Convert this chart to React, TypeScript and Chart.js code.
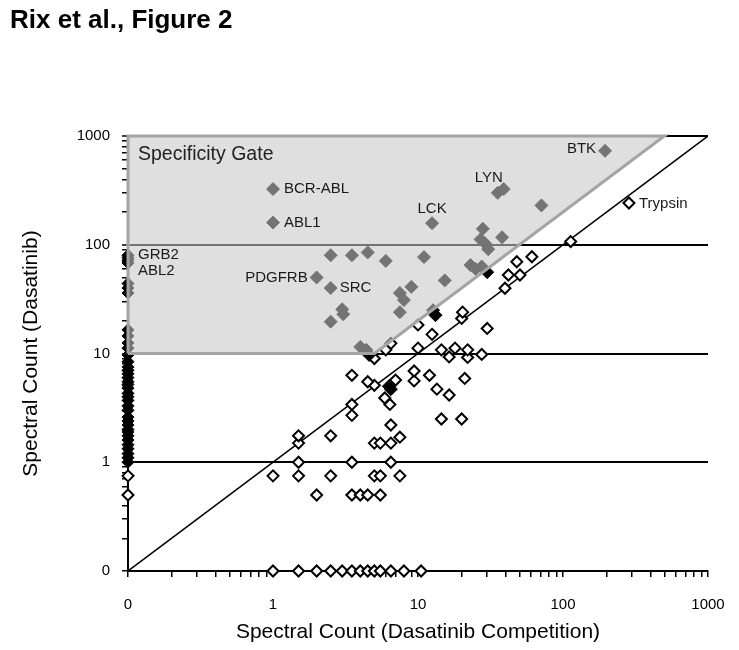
import React, { useEffect, useRef } from 'react';
import { Chart, registerables } from 'chart.js';

Chart.register(...registerables);

const FONT = 'Arial, "Liberation Sans", Helvetica, sans-serif';

// ---- axis description (0 is drawn one decade below 1) ----
const AXIS_ZERO = 0.1;
const decadeStarts = [0.1, 1, 10, 100];
const majorTickValues = [0.1, 1, 10, 100, 1000];
const majorTickLabels = ['0', '1', '10', '100', '1000'];
const gridValues = [1, 10, 100, 1000];

// ---- data: Spectral Count (Dasatinib Competition) vs Spectral Count (Dasatinib) ----
// filled diamonds with no competition signal (x = 0)
const zeroCompY = [
  80, 76, 72, 68, 44, 40, 36, 16.5, 14.5, 12.5, 11.2, 9.7, 8.4, 7.5, 7, 6.5, 6, 5.5, 5.2, 4.8,
  4.3, 4, 3.7, 3.3, 3, 2.6, 2.4, 2.2, 2, 1.9, 1.75, 1.6, 1.45, 1.33, 1.2, 1.1, 1.0,
];
// other filled diamonds
const hitX = [
  1, 1, 12.5, 35.5, 39, 195, 71, 28, 38, 27, 29, 30.5, 23, 25, 27.5, 30, 15.3, 11, 9, 7.5,
  8, 7.5, 12.7, 13.2, 2.5, 3.5, 4.5, 6, 2, 2.5, 3, 3.05, 2.5, 4, 4.4, 4.6, 6.3, 6.5,
];
const hitY = [
  325, 160, 158, 300, 325, 730, 230, 140, 117, 112, 103, 91, 65, 60, 63, 56, 47, 77, 41, 36,
  31, 24, 25, 22.5, 80, 80, 85, 71, 50, 40, 25.5, 23, 19.6, 11.5, 10.8, 9.7, 5.0, 4.7,
];
// open diamonds
const openX = [
  0, 0,
  1, 1.5, 2, 2.5, 3, 3.5, 4, 4.5, 5, 5.5, 6.5, 8, 10.5,
  2, 3.5, 4, 4.5, 5.5,
  1, 1.5, 2.5, 5, 5.5, 7.5,
  1.5, 3.5, 6.5,
  1.5, 5, 5.5, 6.5,
  1.5, 2.5, 7.5,
  6.5, 14.5, 20, 3.5, 3.5, 6.4, 5.9, 16.4, 13.5, 5, 4.5, 7, 9.4, 21, 3.5, 12, 9.4,
  5, 16.4, 22, 27.5, 6, 14.5, 22, 10, 18, 6.5, 12.5, 30, 10, 20, 20.3, 39.8, 42, 50.5, 48, 61, 113, 285,
];
const openY = [
  0.75, 0.5,
  0, 0, 0, 0, 0, 0, 0, 0, 0, 0, 0, 0, 0,
  0.5, 0.5, 0.5, 0.5, 0.5,
  0.75, 0.75, 0.75, 0.75, 0.75, 0.75,
  1, 1, 1,
  1.5, 1.5, 1.5, 1.5,
  1.75, 1.75, 1.7,
  2.2, 2.5, 2.5, 2.7, 3.4, 3.4, 3.9, 4.15, 4.7, 5.1, 5.5, 5.7, 5.6, 5.9, 6.3, 6.3, 6.9,
  9, 9.3, 9.2, 9.8, 10.8, 10.8, 10.8, 11.2, 11.2, 12.4, 15, 17, 18.3, 21, 24, 39.8, 52.7, 52.7, 69.8, 77.6, 107, 242,
];
// y = x reference line
const diagX = [0, 1000];
const diagY = [0, 1000];
// specificity gate polygon
const gateX = [0, 0, 500, 5, 0];
const gateY = [10, 1000, 1000, 10, 10];

// point labels
const labelNames = ['BCR-ABL', 'ABL1', 'LCK', 'LYN', 'BTK', 'Trypsin', 'GRB2', 'ABL2', 'PDGFRB', 'SRC'];
const labelAtX = [1, 1, 12.5, 35.5, 195, 285, 0, 0, 2, 2.5];
const labelAtY = [325, 160, 158, 300, 730, 242, 80, 68, 50, 40];
const gateTitle = 'Specificity Gate';

// label placement (pixel offsets / alignment)
const labelPlacement: { dx: number; dy: number; align: CanvasTextAlign; size: number }[] = [
  { dx: 11, dy: 0, align: 'left', size: 15 },
  { dx: 11, dy: 0, align: 'left', size: 15 },
  { dx: 0, dy: -14, align: 'center', size: 15 },
  { dx: -9, dy: -15, align: 'center', size: 15 },
  { dx: -9, dy: -2, align: 'right', size: 15 },
  { dx: 10, dy: 1, align: 'left', size: 15 },
  { dx: 10, dy: 0, align: 'left', size: 15 },
  { dx: 10, dy: 8, align: 'left', size: 15 },
  { dx: -9, dy: 0, align: 'right', size: 15 },
  { dx: 9, dy: 0, align: 'left', size: 15 },
];

const toAxis = (v: number) => (v === 0 ? AXIS_ZERO : v);
const toPoints = (xs: number[], ys: number[]) => xs.map((x, i) => ({ x: toAxis(x), y: toAxis(ys[i]) }));

function buildTicks() {
  const out: { value: number; major: boolean }[] = [];
  decadeStarts.forEach((base) => {
    for (let m = 1; m <= 9; m++) out.push({ value: base * m, major: m === 1 });
  });
  out.push({ value: 1000, major: true });
  return out;
}

function tickLabel(value: number, index: number, ticks: any[]) {
  if (!ticks[index] || !ticks[index].major) return '';
  const k = majorTickValues.findIndex((v) => Math.abs(v - value) / v < 1e-6);
  return k >= 0 ? majorTickLabels[k] : '';
}

const labelPlugin = {
  id: 'pointLabels',
  afterDatasetsDraw(chart: any) {
    const { ctx, scales } = chart;
    const xs = scales.x;
    const ys = scales.y;
    ctx.save();
    ctx.textBaseline = 'middle';
    ctx.fillStyle = '#1a1a1a';
    labelNames.forEach((name, i) => {
      const p = labelPlacement[i];
      const px = xs.getPixelForValue(toAxis(labelAtX[i])) + p.dx;
      const py = ys.getPixelForValue(toAxis(labelAtY[i])) + p.dy;
      ctx.font = `${p.size}px ${FONT}`;
      ctx.textAlign = p.align;
      ctx.fillText(name, px, py);
    });
    ctx.font = `19.5px ${FONT}`;
    ctx.textAlign = 'left';
    ctx.fillStyle = '#222';
    ctx.fillText(gateTitle, xs.getPixelForValue(toAxis(gateX[1])) + 10, ys.getPixelForValue(toAxis(gateY[1])) + 19);
    ctx.restore();
  },
};

export default function App() {
  const ref = useRef<HTMLCanvasElement | null>(null);

  useEffect(() => {
    if (!ref.current) return;
    document.body.style.margin = '0';
    const axisCommon = (title: string, titlePadding: any) => ({
      type: 'logarithmic' as const,
      min: AXIS_ZERO,
      max: 1000,
      afterBuildTicks: (scale: any) => {
        scale.ticks = buildTicks();
      },
      ticks: {
        autoSkip: false,
        maxRotation: 0,
        minRotation: 0,
        color: '#000',
        font: { family: FONT, size: 15 },
        callback: tickLabel,
      },
      border: { display: true, color: '#000', width: 2 },
      title: {
        display: true,
        text: title,
        color: '#000',
        font: { family: FONT, size: 21 },
        padding: titlePadding,
      },
    });

    const xAxis: any = axisCommon('Spectral Count (Dasatinib Competition)', { top: 0, bottom: 5 });
    xAxis.position = 'bottom';
    xAxis.grid = { drawOnChartArea: false, drawTicks: true, tickLength: 6, tickColor: '#000', lineWidth: 1.5 };
    xAxis.ticks.padding = 19;
    xAxis.afterFit = (s: any) => {
      s.height = 79;
      s.paddingLeft = 0;
      s.paddingRight = 0;
    };

    const yAxis: any = axisCommon('Spectral Count (Dasatinib)', { top: 19, bottom: 0 });
    yAxis.position = 'left';
    yAxis.grid = {
      drawOnChartArea: true,
      drawTicks: true,
      tickLength: 6,
      tickColor: '#000',
      tickWidth: 1.5,
      lineWidth: (c: any) => (c.tick && gridValues.some((v) => Math.abs(v - c.tick.value) / v < 1e-6) ? 2 : 1.5),
      color: (c: any) =>
        c.tick && gridValues.some((v) => Math.abs(v - c.tick.value) / v < 1e-6) ? '#000' : 'rgba(0,0,0,0)',
    };
    yAxis.ticks.padding = 12;
    yAxis.afterFit = (s: any) => {
      s.width = 128;
      s.paddingTop = 0;
      s.paddingBottom = 0;
    };

    const chart = new Chart(ref.current, {
      type: 'scatter',
      data: {
        datasets: [
          {
            label: 'Specificity Gate',
            data: toPoints(gateX, gateY),
            showLine: true,
            pointRadius: 0,
            borderColor: '#a4a4a4',
            borderWidth: 3,
            borderJoinStyle: 'miter',
            backgroundColor: 'rgba(200,200,200,0.58)',
            fill: 'shape',
            clip: false,
            order: 0,
          } as any,
          {
            label: 'Hits (no competition)',
            data: zeroCompY.map((y) => ({ x: AXIS_ZERO, y: toAxis(y) })),
            pointStyle: 'rectRot',
            pointRadius: 6,
            backgroundColor: '#000',
            borderColor: '#000',
            borderWidth: 1,
            clip: false,
            order: 1,
          } as any,
          {
            label: 'Hits',
            data: toPoints(hitX, hitY),
            pointStyle: 'rectRot',
            pointRadius: 6.5,
            backgroundColor: '#000',
            borderColor: '#000',
            borderWidth: 1,
            clip: false,
            order: 1,
          } as any,
          {
            label: 'Other proteins',
            data: toPoints(openX, openY),
            pointStyle: 'rectRot',
            pointRadius: 5.5,
            backgroundColor: '#fff',
            borderColor: '#000',
            borderWidth: 2,
            clip: false,
            order: 2,
          } as any,
          {
            label: 'y = x',
            data: toPoints(diagX, diagY),
            showLine: true,
            pointRadius: 0,
            borderColor: '#000',
            borderWidth: 1.5,
            fill: false,
            order: 3,
          } as any,
        ],
      },
      options: {
        animation: false,
        responsive: false,
        events: [],
        layout: { padding: { top: 136, right: 31, left: 0, bottom: 0 } },
        plugins: {
          legend: { display: false },
          tooltip: { enabled: false },
          title: { display: false },
        },
        scales: { x: xAxis, y: yAxis },
      } as any,
      plugins: [labelPlugin],
    });
    return () => chart.destroy();
  }, []);

  return (
    <div style={{ position: 'absolute', left: 0, top: 0, width: 739, height: 650, background: '#fff' }}>
      <canvas ref={ref} width={739} height={650} style={{ position: 'absolute', left: 0, top: 0 }} />
      <div
        style={{
          position: 'absolute',
          left: 10,
          top: 4,
          font: `bold 26px ${FONT}`,
          color: '#000',
          whiteSpace: 'nowrap',
        }}
      >
        Rix et al., Figure 2
      </div>
    </div>
  );
}
